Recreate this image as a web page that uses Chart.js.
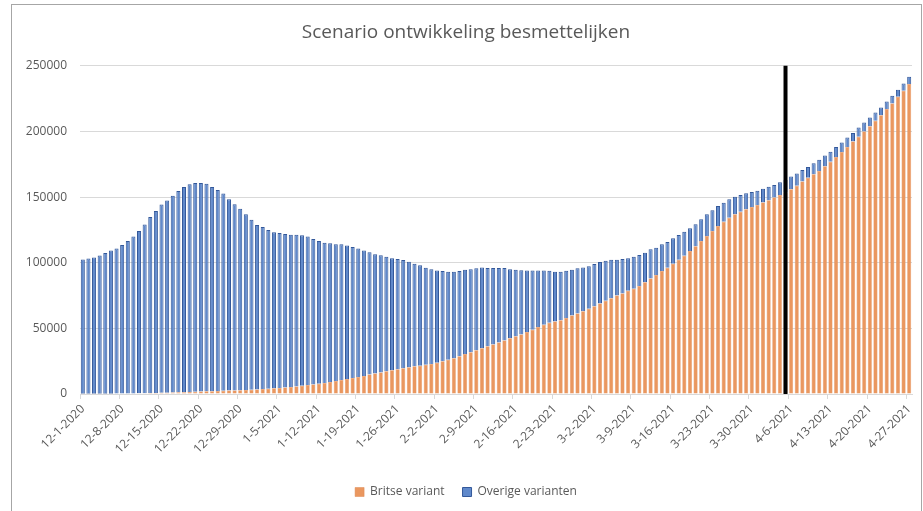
<!DOCTYPE html>
<html>
<head>
<meta charset="utf-8">
<script src="https://cdn.jsdelivr.net/npm/chart.js@4.4.1/dist/chart.umd.min.js"></script>
<style>
  body { margin: 0; background: #fff; }
  #wrap { width: 923px; height: 511px; position: relative; }
</style>
</head>
<body>
<div id="wrap"><canvas id="besmettelijkChart"></canvas></div>
<script>
// tick labels shown on the x axis (every 7 days)
var tickLabels = ['12-1-2020', '12-8-2020', '12-15-2020', '12-22-2020', '12-29-2020', '1-5-2021', '1-12-2021',
    '1-19-2021', '1-26-2021', '2-2-2021', '2-9-2021', '2-16-2021', '2-23-2021', '3-2-2021', '3-9-2021',
    '3-16-2021', '3-23-2021', '3-30-2021', '4-6-2021', '4-13-2021', '4-20-2021', '4-27-2021'];

var seriesNames = ['Britse variant', 'Overige varianten'];

// Britse variant (onderste deel van de staaf)
var britse = [
    100, 120, 150, 180, 220, 260, 300, 350, 400, 460,
    520, 600, 680, 770, 870, 980, 1100, 1250, 1400, 1550,
    1700, 1850, 2000, 2150, 2300, 2450, 2600, 2750, 2900, 3050,
    3250, 3500, 3750, 4000, 4300, 4650, 5000, 5400, 5800, 6300,
    6800, 7300, 7900, 8400, 9200, 9900, 10700, 11400, 12200, 13000,
    13700, 14800, 15600, 16300, 17300, 18100, 18800, 19600, 20400, 21100,
    21500, 22200, 22800, 23800, 24900, 26000, 27300, 28800, 30400, 31800,
    33300, 34900, 36400, 37800, 39200, 40800, 42400, 44000, 45400, 47300,
    49000, 51000, 52700, 54200, 55200, 56200, 57800, 59800, 61300, 63100,
    64900, 66900, 69000, 71000, 73000, 75100, 76600, 78600, 80100, 82200,
    85200, 88000, 90600, 93600, 96100, 99200, 102200, 105300, 108900, 112500,
    116500, 120300, 124100, 128000, 131200, 134300, 136900, 138900, 140700, 142500,
    144000, 145800, 147600, 149600, 151600, 153500, 156000, 158700, 161800, 164800,
    167400, 169900, 173500, 177000, 180600, 184400, 188200, 192300, 195900, 199900,
    204000, 208100, 212400, 217000, 221300, 226400, 231000, 236100
];

// Overige varianten (bovenste deel van de staaf)
var overige = [
    102400, 103100, 103900, 105300, 107100, 109000, 110600, 113100, 116100, 119500,
    123600, 128600, 134100, 138600, 143500, 146500, 150000, 153400, 156300, 158200,
    159000, 158900, 158200, 155600, 153100, 150200, 145700, 141700, 138200, 133800,
    129500, 125200, 123400, 120900, 119000, 118000, 116800, 115900, 115500, 114700,
    113200, 110700, 108600, 106800, 105600, 104100, 103300, 101800, 99700, 97900,
    95700, 93100, 90800, 89300, 87200, 85400, 84000, 82400, 80300, 78100,
    76500, 74000, 72300, 70300, 68700, 67100, 65800, 64800, 64200, 63300,
    62400, 61500, 59500, 58100, 56700, 55100, 52700, 50600, 48900, 46800,
    45100, 43000, 41400, 39600, 37900, 36900, 36000, 34800, 34400, 33300,
    32500, 32100, 31500, 30500, 29200, 27100, 26200, 24900, 24400, 23600,
    22400, 22200, 20800, 20400, 19600, 19400, 18900, 18300, 17300, 16800,
    16600, 16600, 15800, 15200, 14500, 14000, 13400, 12700, 12200, 11400,
    10900, 10600, 10300, 9600, 9700, 9500, 9600, 9200, 8900, 8200,
    8400, 8600, 8100, 7600, 7600, 7100, 7100, 6600, 7100, 6900,
    6600, 6300, 5800, 5800, 5800, 5300, 5500, 5500
];

var markerDay = '4-5-2021'; // zwarte lijn
var yMax = 250000;
var yStep = 50000;

// dagelijkse categorieen vanaf 1 december 2020
var categories = [];
var d = new Date(2020, 11, 1);
for (var i = 0; i < britse.length; i++) {
    categories.push((d.getMonth() + 1) + '-' + d.getDate() + '-' + d.getFullYear());
    d.setDate(d.getDate() + 1);
}

var textColor = '#595959';
var fontFamily = "'Open Sans', 'Noto Sans', sans-serif";

var framePlugin = {
    id: 'frame',
    beforeDraw: function (chart) {
        var c = chart.ctx;
        c.save();
        c.fillStyle = '#fff';
        c.fillRect(0, 0, chart.width, chart.height);
        c.strokeStyle = '#a6a6a6';
        c.lineWidth = 1;
        c.strokeRect(11.5, 4.5, 910, 520);
        c.restore();
    },
    afterDatasetsDraw: function (chart) {
        var xs = chart.scales.x, ys = chart.scales.y;
        var x = xs.getPixelForValue(categories.indexOf(markerDay));
        var c = chart.ctx;
        c.save();
        c.strokeStyle = '#000';
        c.lineWidth = 4;
        c.beginPath();
        c.moveTo(x, ys.getPixelForValue(yMax));
        c.lineTo(x, ys.bottom);
        c.stroke();
        c.restore();
    }
};

document.addEventListener("DOMContentLoaded", function () {
    var ctx = document.getElementById('besmettelijkChart').getContext('2d');
    var chart = new Chart(ctx, {
        type: 'bar',
        data: {
            labels: categories,
            datasets: [{
                label: seriesNames[0],
                data: britse,
                backgroundColor: '#ea975f',
                borderColor: '#dd8853',
                borderWidth: 0.5,
                barPercentage: 0.72,
                categoryPercentage: 1
            }, {
                label: seriesNames[1],
                data: overige,
                backgroundColor: '#6089cb',
                borderColor: '#33589a',
                borderWidth: 1,
                barPercentage: 0.72,
                categoryPercentage: 1
            }]
        },
        options: {
            responsive: true,
            maintainAspectRatio: false,
            animation: false,
            layout: { padding: { left: 20, right: 11, top: 17, bottom: 3 } },
            plugins: {
                title: {
                    display: true,
                    text: 'Scenario ontwikkeling besmettelijken',
                    color: textColor,
                    font: { family: fontFamily, size: 19, weight: 'normal' },
                    padding: { top: 4, bottom: 22 }
                },
                legend: {
                    position: 'bottom',
                    labels: {
                        boxWidth: 9,
                        boxHeight: 9,
                        padding: 18,
                        color: textColor,
                        font: { family: fontFamily, size: 12 }
                    }
                },
                tooltip: { enabled: false }
            },
            scales: {
                x: {
                    stacked: true,
                    afterFit: function (axis) { axis.height = 74; },
                    grid: {
                        drawOnChartArea: false,
                        tickLength: 5,
                        color: function (c) { return c.index % 7 === 0 ? '#d9d9d9' : 'rgba(0,0,0,0)'; }
                    },
                    border: { color: '#d9d9d9' },
                    ticks: {
                        autoSkip: false,
                        minRotation: 45,
                        maxRotation: 45,
                        color: textColor,
                        font: { family: fontFamily, size: 12 },
                        callback: function (v, i) { return tickLabels.indexOf(categories[i]) >= 0 ? categories[i] : ''; }
                    }
                },
                y: {
                    stacked: true,
                    min: 0,
                    max: yMax,
                    afterFit: function (axis) { axis.width = 60; },
                    grid: { color: '#d9d9d9', drawTicks: false },
                    border: { display: false },
                    ticks: {
                        stepSize: yStep,
                        padding: 13,
                        color: textColor,
                        font: { family: fontFamily, size: 12 },
                        callback: function (v) { return String(v); }
                    }
                }
            }
        },
        plugins: [framePlugin]
    });
});
</script>
</body>
</html>
